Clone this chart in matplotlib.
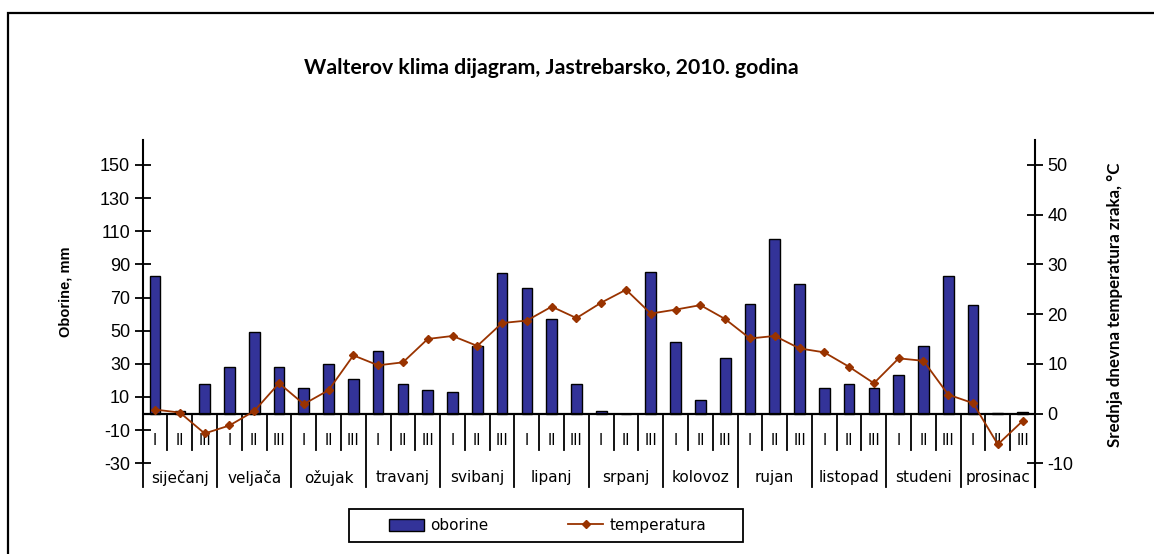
import matplotlib
matplotlib.use('Agg')
import matplotlib.pyplot as plt
from matplotlib.patches import Rectangle, Patch
from matplotlib.lines import Line2D

plt.rcParams['axes.unicode_minus'] = False

months = ['siječanj', 'veljača', 'ožujak', 'travanj', 'svibanj', 'lipanj',
          'srpanj', 'kolovoz', 'rujan', 'listopad', 'studeni', 'prosinac']
decades = ['I', 'II', 'III']

oborine = [83, 1.5, 18, 28, 49, 28, 15.7, 30, 20.7, 38, 18, 14,
           13, 41, 85, 75.5, 57, 18, 1.4, 0, 85.5, 43, 8, 33.5,
           66, 105.5, 78, 15.7, 18, 15.7, 23.3, 41, 83, 65.3, 0.6, 1.2]
temperatura = [0.8, 0.2, -4.0, -2.4, 0.5, 6.1, 1.9, 4.7, 11.7, 9.7, 10.3, 15.0,
               15.6, 13.6, 18.2, 18.7, 21.5, 19.2, 22.3, 24.9, 20.1, 20.9, 21.8, 19.0,
               15.1, 15.6, 13.1, 12.3, 9.4, 6.1, 11.1, 10.6, 3.8, 2.1, -6.2, -1.5]

left_ticks = list(range(-30, 151, 20))
right_ticks = list(range(-10, 51, 10))

W, H = 1154, 554
fig = plt.figure(figsize=(W / 100, H / 100), dpi=100)

# outer frame
fig.add_artist(Rectangle((7.5 / W, -0.1), 1.2, 1 - 13.3 / H + 0.1, transform=fig.transFigure,
                         fill=False, edgecolor='black', linewidth=1.6))

x0, x1, ytop, ybot = 142.7, 1035.0, 140.0, 463.3
ax = fig.add_axes([x0 / W, 1 - ybot / H, (x1 - x0) / W, (ybot - ytop) / H])
ax.patch.set_alpha(0)

n = len(oborine)
xs = list(range(n))
ax.bar(xs, oborine, width=0.43, color='#333399', edgecolor='black', linewidth=1.0, zorder=2)
ax.set_xlim(-0.5, n - 0.5)
ax.set_ylim(-30, 165)
ax.set_yticks(left_ticks)
ax.set_xticks([])
ax.axhline(0, color='black', linewidth=1.6, zorder=3)
for s in ['top', 'bottom']:
    ax.spines[s].set_visible(False)
ax.spines['left'].set_linewidth(1.5)
ax.spines['right'].set_visible(False)
ax.tick_params(axis='y', direction='inout', length=12, width=1.3, labelsize=13, pad=3)
for lab in ax.get_yticklabels():
    lab.set_fontfamily('Liberation Sans')

# category separators and labels
for b in range(n + 1):
    xb = b - 0.5
    if b % 3 == 0:
        ax.plot([xb, xb], [0, -44.4], color='black', linewidth=1.3, clip_on=False, zorder=3)
    else:
        ax.plot([xb, xb], [0, -22.2], color='black', linewidth=1.3, clip_on=False, zorder=3)
for i in range(n):
    ax.text(i, -16.5, decades[i % 3], ha='center', va='center', fontsize=10.5,
            family='DejaVu Sans', color='black')
for m, name in enumerate(months):
    ax.text(3 * m + 1, -38.8, name, ha='center', va='center', fontsize=11,
            family='DejaVu Sans', color='black')

ax2 = ax.twinx()
ax2.plot(xs, temperatura, color='#993300', linewidth=1.3, marker='D', markersize=4.5,
         markerfacecolor='#993300', markeredgecolor='#993300', zorder=4)
ax2.set_ylim(-10, 55)
ax2.set_yticks(right_ticks)
for s in ['top', 'bottom', 'left']:
    ax2.spines[s].set_visible(False)
ax2.spines['right'].set_linewidth(1.5)
ax2.plot([n - 0.5, n - 0.5], [-10, -14.8], color='black', linewidth=1.5, clip_on=False)
ax2.tick_params(axis='y', direction='inout', length=12, width=1.3, labelsize=13, pad=3)
for lab in ax2.get_yticklabels():
    lab.set_fontfamily('Liberation Sans')

fig.text(551 / W, 1 - 67.5 / H, 'Walterov klima dijagram, Jastrebarsko, 2010. godina',
         ha='center', va='center', fontsize=15.3, fontweight='bold', family='Lato')
fig.text(65 / W, 1 - 292 / H, 'Oborine, mm', rotation=90, ha='center', va='center',
         fontsize=10.5, fontweight='bold', family='Liberation Sans')
fig.text(1115 / W, 1 - 305 / H, 'Srednja dnevna temperatura zraka, °C', rotation=90,
         ha='center', va='center', fontsize=12.2, fontweight='bold', family='Lato')

# legend
fig.add_artist(Rectangle((349 / W, 1 - 542 / H), (743 - 349) / W, (542 - 509) / H,
                         transform=fig.transFigure, fill=False, edgecolor='black',
                         linewidth=1.3))
handles = [Patch(facecolor='#333399', edgecolor='black', linewidth=1.0),
           Line2D([], [], color='#993300', linewidth=1.3, marker='D', markersize=4,
                  markerfacecolor='#993300', markeredgecolor='#993300')]
leg = fig.legend(handles, ['oborine', 'temperatura'], loc='center',
                 bbox_to_anchor=(547.5 / W, 1 - 525.5 / H), ncol=2, frameon=False,
                 handlelength=2.3, handleheight=0.8,
                 columnspacing=5.2, borderpad=0.3, handletextpad=0.4,
                 prop={'family': 'DejaVu Sans', 'size': 11})

fig.savefig('out.png', dpi=100)
